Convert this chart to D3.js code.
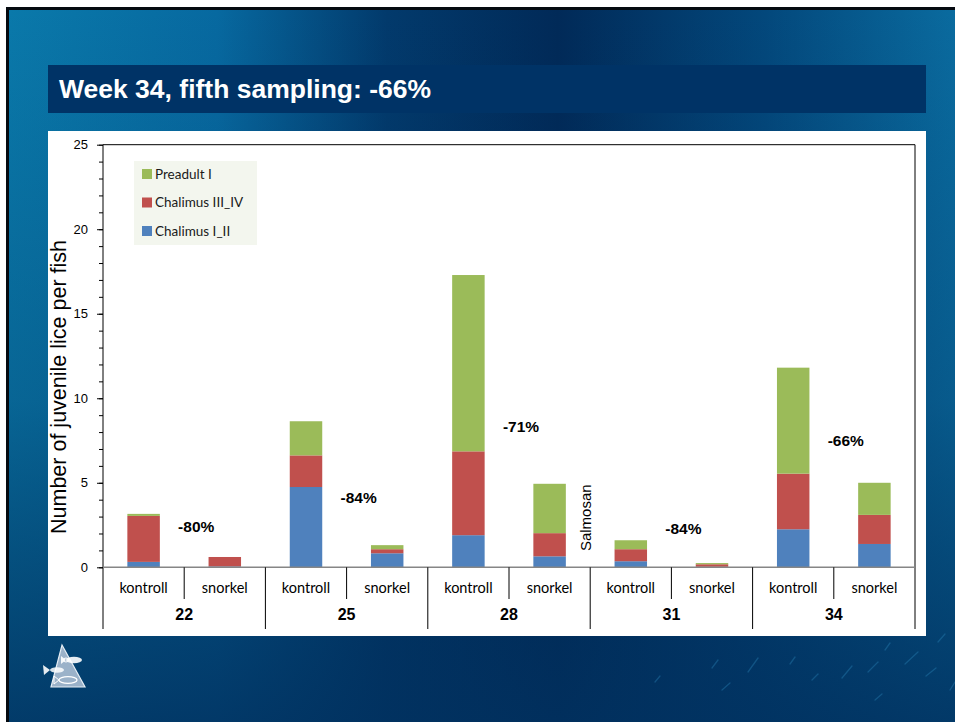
<!DOCTYPE html>
<html>
<head>
<meta charset="utf-8">
<script src="https://cdn.jsdelivr.net/npm/d3@7"></script>
<style>
  body { margin: 0; background: #fff; }
  svg { display: block; }
</style>
</head>
<body>
<div id="slide"></div>
<script>
// values
const weeks = ['22', '25', '28', '31', '34'];
const groups = ['kontroll', 'snorkel'];
const seriesNames = ['Chalimus I_II', 'Chalimus III_IV', 'Preadult I'];
const chalimusI_II = [0.32, 0.05, 4.75, 0.83, 1.90, 0.65, 0.36, 0.03, 2.25, 1.38];
const chalimusIII_IV = [2.72, 0.56, 1.87, 0.24, 4.96, 1.37, 0.71, 0.15, 3.29, 1.72];
const preadultI = [0.12, 0.00, 2.02, 0.24, 10.43, 2.92, 0.53, 0.07, 6.27, 1.90];
const reductions = ['-80%', '-84%', '-71%', '-84%', '-66%'];
const yTicks = [0, 5, 10, 15, 20, 25];
const title = 'Week 34, fifth sampling: -66%';

const W = 955, H = 722;
const colors = { 'Chalimus I_II': '#4f81bd', 'Chalimus III_IV': '#c0504d', 'Preadult I': '#9bbb59' };

const svg = d3.select('#slide').append('svg')
  .attr('width', W).attr('height', H);

// background
const defs = svg.append('defs');
const bg = defs.append('linearGradient').attr('id', 'bg').attr('x1', 0).attr('x2', 1).attr('y1', 0).attr('y2', 0);
[['0%', '#0a79aa'], ['22%', '#0769a0'], ['40%', '#023a6c'], ['58%', '#012a58'], ['80%', '#03487c'], ['100%', '#0a6b9f']]
  .forEach(s => bg.append('stop').attr('offset', s[0]).attr('stop-color', s[1]));
const shade = defs.append('linearGradient').attr('id', 'shade').attr('x1', 0).attr('x2', 0).attr('y1', 0).attr('y2', 1);
shade.append('stop').attr('offset', '0%').attr('stop-color', '#002a55').attr('stop-opacity', 0);
shade.append('stop').attr('offset', '55%').attr('stop-color', '#002a55').attr('stop-opacity', 0.25);
shade.append('stop').attr('offset', '100%').attr('stop-color', '#01305e').attr('stop-opacity', 0.85);

svg.append('rect').attr('width', W).attr('height', H).attr('fill', '#fff');
svg.append('rect').attr('x', 6).attr('y', 7).attr('width', W - 6).attr('height', H - 7).attr('fill', '#050a10');
svg.append('rect').attr('x', 9).attr('y', 10).attr('width', W - 9).attr('height', H - 10).attr('fill', 'url(#bg)');
svg.append('rect').attr('x', 9).attr('y', 10).attr('width', W - 9).attr('height', H - 10).attr('fill', 'url(#shade)');

// faint fish streaks, bottom right
const streaks = svg.append('g').attr('stroke', '#2f8cc0').attr('stroke-linecap', 'round').attr('opacity', 0.35);
[[655, 682, 660, 676], [712, 668, 718, 660], [722, 690, 730, 683], [748, 672, 758, 658], [790, 664, 795, 657],
 [812, 680, 818, 674], [842, 678, 852, 666], [868, 672, 878, 662], [885, 650, 890, 643], [905, 664, 918, 652],
 [926, 676, 936, 668], [938, 642, 945, 634], [875, 700, 882, 694], [950, 690, 955, 682]]
  .forEach(s => streaks.append('line').attr('x1', s[0]).attr('y1', s[1]).attr('x2', s[2]).attr('y2', s[3])
    .attr('stroke-width', 1.3));

// title band
svg.append('rect').attr('x', 48).attr('y', 65).attr('width', 878).attr('height', 48).attr('fill', '#003366');
svg.append('text').attr('x', 59).attr('y', 98)
  .style('font-family', 'Liberation Sans, Arial, sans-serif').style('font-weight', 'bold').style('font-size', '26.5px')
  .attr('fill', '#fff').text(title);

// chart panel
svg.append('rect').attr('x', 48).attr('y', 131).attr('width', 878).attr('height', 505).attr('fill', '#fff');

// logo
const logo = svg.append('g').attr('transform', 'translate(62,645)');
logo.append('path').attr('d', 'M0,0 L23,42 L-11,42 Z').attr('fill', '#9bb2c9').attr('stroke', '#e6eef5').attr('stroke-width', 1.2);
// top fish
logo.append('ellipse').attr('cx', 12).attr('cy', 15).attr('rx', 8).attr('ry', 3.3).attr('fill', '#fff').attr('opacity', 0.9);
logo.append('path').attr('d', 'M4,15 L-1,11 L-1,19 Z').attr('fill', '#fff').attr('opacity', 0.9);
logo.append('ellipse').attr('cx', 4).attr('cy', 15).attr('rx', 2.5).attr('ry', 2).attr('fill', 'none').attr('stroke', '#fff');
// middle fish
logo.append('ellipse').attr('cx', -5).attr('cy', 25).attr('rx', 7).attr('ry', 2.8).attr('fill', '#fff').attr('opacity', 0.85);
logo.append('path').attr('d', 'M-12,25 L-19,20 L-18,30 Z').attr('fill', '#fff').attr('opacity', 0.9);
// bottom fish
logo.append('ellipse').attr('cx', 6).attr('cy', 35).attr('rx', 9).attr('ry', 3.3).attr('fill', 'none').attr('stroke', '#fff').attr('stroke-width', 1.3);
logo.append('path').attr('d', 'M-3,35 L-8,31 L-8,39 Z').attr('fill', 'none').attr('stroke', '#fff');

// chart
const plot = { left: 103, right: 915, top: 144.7, bottom: 567.3 };
const categories = weeks.flatMap(w => groups.map(g => `${w}|${g}`));
const table = categories.map((c, i) => ({
  key: c,
  week: c.split('|')[0],
  group: c.split('|')[1],
  'Chalimus I_II': chalimusI_II[i],
  'Chalimus III_IV': chalimusIII_IV[i],
  'Preadult I': preadultI[i]
}));
const stacked = d3.stack().keys(seriesNames)(table);

const x = d3.scaleBand().domain(categories).range([plot.left, plot.right]).paddingInner(0.6).paddingOuter(0.3);
const xWeek = d3.scaleBand().domain(weeks).range([plot.left, plot.right]);
const y = d3.scaleLinear().domain([0, 25]).range([plot.bottom, plot.top]);

// plot frame (top and right)
svg.append('path')
  .attr('d', `M${plot.left},${plot.top}H${plot.right}V629`)
  .attr('fill', 'none').attr('stroke', '#000').attr('stroke-width', 1);

// bars
svg.append('g').selectAll('g').data(stacked).join('g')
  .attr('fill', d => colors[d.key])
  .selectAll('rect').data(d => d).join('rect')
  .attr('x', d => x(d.data.key))
  .attr('width', x.bandwidth())
  .attr('y', d => y(d[1]))
  .attr('height', d => y(d[0]) - y(d[1]));

// y axis
const yMinor = svg.append('g').attr('transform', `translate(${plot.left},0)`)
  .call(d3.axisLeft(y).tickValues(d3.range(0, 26)).tickSize(4).tickFormat(''));
yMinor.select('.domain').remove();
yMinor.selectAll('line').attr('stroke', '#000');
const yAxis = svg.append('g').attr('transform', `translate(${plot.left},0)`)
  .call(d3.axisLeft(y).tickValues(yTicks).tickSize(6).tickPadding(9).tickSizeOuter(0));
yAxis.select('.domain').attr('d', `M0,${plot.top}V629`).attr('stroke', '#000');
yAxis.selectAll('text').style('font-family', 'Liberation Sans, Arial, sans-serif').style('font-size', '13px').attr('fill', '#000');

svg.append('text')
  .attr('transform', 'translate(66,387) rotate(-90)')
  .attr('text-anchor', 'middle')
  .style('font-family', 'Liberation Sans, Arial, sans-serif').style('font-size', '21.5px')
  .attr('fill', '#000')
  .text('Number of juvenile lice per fish');

// x axis: baseline, dividers, two label rows
svg.append('line').attr('x1', plot.left).attr('x2', plot.right).attr('y1', plot.bottom).attr('y2', plot.bottom)
  .attr('stroke', '#868686').attr('stroke-width', 1.5);
const step = x.step();
svg.append('g').selectAll('line').data(categories.slice(1)).join('line')
  .attr('x1', d => x(d) - x.paddingOuter() * step)
  .attr('x2', d => x(d) - x.paddingOuter() * step)
  .attr('y1', plot.bottom)
  .attr('y2', d => d.endsWith('kontroll') ? 629 : 599)
  .attr('stroke', '#000').attr('stroke-width', 1);

svg.append('g').selectAll('text').data(table).join('text')
  .attr('x', d => x(d.key) + x.bandwidth() / 2)
  .attr('y', 593)
  .attr('text-anchor', 'middle')
  .style('font-family', 'Lato, Carlito, sans-serif').style('font-size', '14.5px')
  .attr('fill', '#000')
  .text(d => d.group);

svg.append('g').selectAll('text').data(weeks).join('text')
  .attr('x', d => xWeek(d) + xWeek.bandwidth() / 2)
  .attr('y', 620)
  .attr('text-anchor', 'middle')
  .style('font-family', 'Liberation Sans, Arial, sans-serif').style('font-weight', 'bold').style('font-size', '16px')
  .attr('fill', '#000')
  .text(d => d);

// reduction labels, between kontroll and snorkel bars of each week
const reductionLevel = [2.4, 4.1, 8.3, 2.3, 7.5];
svg.append('g').selectAll('text').data(weeks).join('text')
  .attr('x', d => xWeek(d) + xWeek.bandwidth() / 2 + 12)
  .attr('y', (d, i) => y(reductionLevel[i]) + 5.5)
  .attr('text-anchor', 'middle')
  .style('font-family', 'Liberation Sans, Arial, sans-serif').style('font-weight', 'bold').style('font-size', '15.5px')
  .attr('fill', '#000')
  .text((d, i) => reductions[i]);

// treatment marker between week 28 and week 31
svg.append('text')
  .attr('transform', `translate(${xWeek('31') + 1},${y(2.93)}) rotate(-90)`)
  .attr('text-anchor', 'middle')
  .style('font-family', 'Liberation Sans, Arial, sans-serif').style('font-size', '15px')
  .attr('fill', '#000')
  .text('Salmosan');

// legend
const legend = svg.append('g').attr('transform', 'translate(134,161)');
legend.append('rect').attr('width', 123).attr('height', 84).attr('fill', '#f3f6ee');
const items = legend.selectAll('g').data(seriesNames.slice().reverse()).join('g')
  .attr('transform', (d, i) => `translate(8,${13 + i * 28.5})`);
items.append('rect').attr('y', -5).attr('width', 10).attr('height', 10).attr('fill', d => colors[d]);
items.append('text').attr('x', 13).attr('y', 4.5)
  .style('font-family', 'Lato, Carlito, sans-serif').style('font-size', '13.5px')
  .attr('fill', '#1a1a1a')
  .text(d => d);
</script>
</body>
</html>
